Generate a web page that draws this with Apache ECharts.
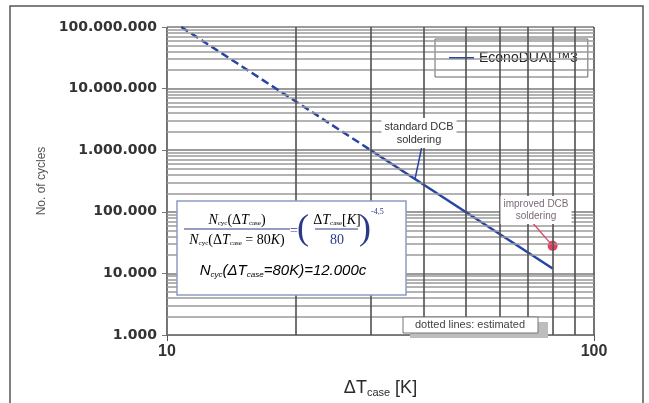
<!DOCTYPE html>
<html>
<head>
<meta charset="utf-8">
<script src="https://cdn.jsdelivr.net/npm/echarts@6/dist/echarts.min.js"></script>
<style>
  html, body { margin: 0; padding: 0; background: #fff; }
  #chart { width: 649px; height: 403px; }
</style>
</head>
<body>
<div id="chart"></div>
<script>
// values (ΔT_case in K, cycles)
const seriesName = 'EconoDUAL\u21223';
const dashedT = [10.8, 30];
const dashedN = [100000000, 1000000];
const solidT = [30, 80];
const solidN = [1000000, 12000];
const improvedT = [80];
const improvedN = [28000];

// axis ticks and grid
const yTickValues = [1000, 10000, 100000, 1000000, 10000000, 100000000];
const yTickLabels = ['1.000', '10.000', '100.000', '1.000.000', '10.000.000', '100.000.000'];
const xTickValues = [10, 100];
const xTickLabels = ['10', '100'];
const xGridValues = [20, 30, 40, 50, 60, 70, 80, 90];
const yGridDecades = [1000, 10000, 100000, 1000000, 10000000];
const yGridSteps = [2, 3, 4, 5, 6, 7, 8, 9];

const pairs = (xs, ys) => xs.map((x, i) => [x, ys[i]]);

const gridLines = [];
yGridDecades.forEach(d => {
    yGridSteps.forEach(s => {
        gridLines.push({ yAxis: d * s, lineStyle: { color: '#9a9a9a', width: 1.5, type: 'solid' } });
    });
});
xGridValues.forEach(v => {
    gridLines.push({ xAxis: v, lineStyle: { color: '#505050', width: 1.6, type: 'solid' } });
});

const chart = echarts.init(document.getElementById('chart'));

const blue = '#2844a4';
const navy = '#2a3a86';

chart.setOption({
    animation: false,
    backgroundColor: '#fff',
    grid: { left: 167, right: 55, top: 27, bottom: 66 },
    legend: {
        left: 435,
        top: 39,
        data: [{ name: seriesName, icon: 'rect' }],
        itemWidth: 25,
        itemHeight: 2,
        padding: [12, 10, 12, 14],
        backgroundColor: '#fff',
        borderColor: '#666',
        borderWidth: 1,
        textStyle: { fontFamily: 'Liberation Sans', fontSize: 14, color: '#222' }
    },
    xAxis: {
        type: 'log',
        logBase: 10,
        min: 10,
        max: 100,
        name: '\u0394T{sub|case} [K]',
        nameLocation: 'middle',
        nameGap: 43,
        nameTextStyle: {
            fontFamily: 'Liberation Sans',
            fontSize: 18,
            color: '#2a2a2a',
            rich: { sub: { fontSize: 11, padding: [9, 0, 0, 0], fontFamily: 'Liberation Sans', color: '#2a2a2a' } }
        },
        axisLine: { show: true, lineStyle: { color: '#777', width: 1 } },
        axisTick: { show: true, length: 6, lineStyle: { color: '#555' } },
        splitLine: { show: true, lineStyle: { color: '#505050', width: 1.6 } },
        axisLabel: {
            margin: 9,
            fontFamily: 'Liberation Sans',
            fontWeight: 'bold',
            fontSize: 16,
            color: '#333',
            formatter: v => {
                const i = xTickValues.findIndex(t => Math.abs(t - v) < 1e-6);
                return i >= 0 ? xTickLabels[i] : '';
            }
        }
    },
    yAxis: {
        type: 'log',
        logBase: 10,
        min: 1000,
        max: 100000000,
        name: 'No. of cycles',
        nameLocation: 'middle',
        nameRotate: 90,
        nameGap: 106,
        nameTextStyle: { fontFamily: 'Liberation Sans', fontSize: 12, color: '#555' },
        axisLine: { show: true, lineStyle: { color: '#777', width: 1 } },
        axisTick: { show: true, length: 5, lineStyle: { color: '#777' } },
        splitLine: { show: true, lineStyle: { color: '#7a7a7a', width: 1.5 } },
        axisLabel: {
            margin: 10,
            fontFamily: 'DejaVu Sans',
            fontWeight: 'bold',
            fontSize: 14,
            color: '#333',
            formatter: v => {
                const i = yTickValues.findIndex(t => Math.abs(t - v) / t < 1e-6);
                return i >= 0 ? yTickLabels[i] : '';
            }
        }
    },
    series: [
        {
            name: 'grid',
            type: 'line',
            data: [],
            z: 1,
            silent: true,
            markLine: {
                silent: true,
                symbol: 'none',
                label: { show: false },
                animation: false,
                data: gridLines
            }
        },
        {
            name: 'estimated',
            type: 'line',
            data: pairs(dashedT, dashedN),
            showSymbol: false,
            z: 3,
            lineStyle: { color: blue, width: 2.5, type: [8, 4] }
        },
        {
            name: seriesName,
            type: 'line',
            data: pairs(solidT, solidN),
            showSymbol: false,
            z: 3,
            itemStyle: { color: blue },
            lineStyle: { color: blue, width: 2.5 }
        },
        {
            name: 'improved',
            type: 'scatter',
            data: pairs(improvedT, improvedN),
            symbolSize: 10,
            z: 4,
            itemStyle: { color: '#e0103a' }
        }
    ]
});

// annotations placed after the scales exist
const redPt = chart.convertToPixel({ gridIndex: 0 }, [improvedT[0], improvedN[0]]);
const sA = chart.convertToPixel({ gridIndex: 0 }, [solidT[0], solidN[0]]);
const sB = chart.convertToPixel({ gridIndex: 0 }, [solidT[1], solidN[1]]);
const px = 415;
const tt = (px - sA[0]) / (sB[0] - sA[0]);
const stdPt = [px, sA[1] + tt * (sB[1] - sA[1])];

const serif = 'Liberation Serif';
const fr = {
    i: { fontFamily: serif, fontStyle: 'italic', fontSize: 14, color: navy },
    r: { fontFamily: serif, fontSize: 14, color: navy },
    s: { fontFamily: serif, fontSize: 7, color: navy, padding: [7, 0, 0, 0] }
};
const sr = {
    i: { fontFamily: 'Liberation Sans', fontStyle: 'italic', fontSize: 15, color: '#34489c' },
    s: { fontFamily: 'Liberation Sans', fontStyle: 'italic', fontSize: 8, color: '#34489c', padding: [8, 0, 0, 0] }
};

chart.setOption({
    graphic: [
        // outer frame
        { type: 'rect', shape: { x: 10, y: 6, width: 633, height: 420 }, style: { fill: 'none', stroke: '#555', lineWidth: 1.5 }, silent: true, z: 0 },
        // standard DCB soldering
        { type: 'line', shape: { x1: 422, y1: 146, x2: stdPt[0], y2: stdPt[1] }, style: { stroke: blue, lineWidth: 1.5 }, z: 10 },
        { type: 'text', x: 419, y: 133, z: 10, style: {
            text: 'standard DCB\nsoldering', align: 'center', verticalAlign: 'middle',
            fontFamily: 'Liberation Sans', fontSize: 11, lineHeight: 13, fill: '#333',
            backgroundColor: '#fff', padding: [2, 3, 2, 3]
        } },
        // improved DCB soldering
        { type: 'line', shape: { x1: 531, y1: 221, x2: redPt[0], y2: redPt[1] }, style: { stroke: '#e04060', lineWidth: 1.2 }, z: 10 },
        { type: 'text', x: 536, y: 210, z: 10, style: {
            text: 'improved DCB\nsoldering', align: 'center', verticalAlign: 'middle',
            fontFamily: 'Liberation Sans', fontSize: 10, lineHeight: 12, fill: '#7a6a78',
            backgroundColor: '#fff', padding: [2, 3, 2, 3]
        } },
        // dotted lines note
        { type: 'rect', shape: { x: 410, y: 322, width: 138, height: 16 }, style: { fill: '#bdbdbd' }, z: 10 },
        { type: 'rect', shape: { x: 403, y: 317, width: 135, height: 16 }, style: { fill: '#fff', stroke: '#777', lineWidth: 1 }, z: 11 },
        { type: 'text', x: 470, y: 325, z: 12, style: {
            text: 'dotted lines: estimated', align: 'center', verticalAlign: 'middle',
            fontFamily: 'Liberation Sans', fontSize: 11, fill: '#444'
        } },
        // formula box
        { type: 'rect', shape: { x: 177, y: 201, width: 229, height: 94 }, style: { fill: '#fff', stroke: '#8c9cc4', lineWidth: 1.5 }, z: 10 },
        { type: 'text', x: 237, y: 220, z: 11, style: {
            text: '{i|N}{s|cyc}{r|(\u0394}{i|T}{s|case}{r|)}', align: 'center', verticalAlign: 'middle', rich: fr
        } },
        { type: 'line', shape: { x1: 184, y1: 229, x2: 290, y2: 229 }, style: { stroke: navy, lineWidth: 1 }, z: 11 },
        { type: 'text', x: 237, y: 240, z: 11, style: {
            text: '{i|N}{s|cyc}{r|(\u0394}{i|T}{s|case}{r| = 80}{i|K}{r|)}', align: 'center', verticalAlign: 'middle', rich: fr
        } },
        { type: 'text', x: 294, y: 231, z: 11, style: {
            text: '=', align: 'center', verticalAlign: 'middle', fontFamily: serif, fontSize: 14, fill: navy
        } },
        { type: 'text', x: 303, y: 230, z: 11, style: {
            text: '(', align: 'center', verticalAlign: 'middle', fontFamily: serif, fontSize: 36, fill: navy
        } },
        { type: 'text', x: 337, y: 220, z: 11, style: {
            text: '{r|\u0394}{i|T}{s|case}{r|[}{i|K}{r|]}', align: 'center', verticalAlign: 'middle', rich: fr
        } },
        { type: 'line', shape: { x1: 315, y1: 229, x2: 358, y2: 229 }, style: { stroke: navy, lineWidth: 1 }, z: 11 },
        { type: 'text', x: 337, y: 240, z: 11, style: {
            text: '80', align: 'center', verticalAlign: 'middle', fontFamily: serif, fontSize: 14, fill: navy
        } },
        { type: 'text', x: 365, y: 230, z: 11, style: {
            text: ')', align: 'center', verticalAlign: 'middle', fontFamily: serif, fontSize: 36, fill: navy
        } },
        { type: 'text', x: 371, y: 212, z: 11, style: {
            text: '-4,5', align: 'left', verticalAlign: 'middle', fontFamily: serif, fontSize: 8, fill: navy
        } },
        { type: 'text', x: 283, y: 271, z: 11, style: {
            text: '{i|N}{s|cyc}{i|(\u0394T}{s|case}{i|=80K)=12.000c}', align: 'center', verticalAlign: 'middle', rich: sr
        } }
    ]
});
</script>
</body>
</html>
